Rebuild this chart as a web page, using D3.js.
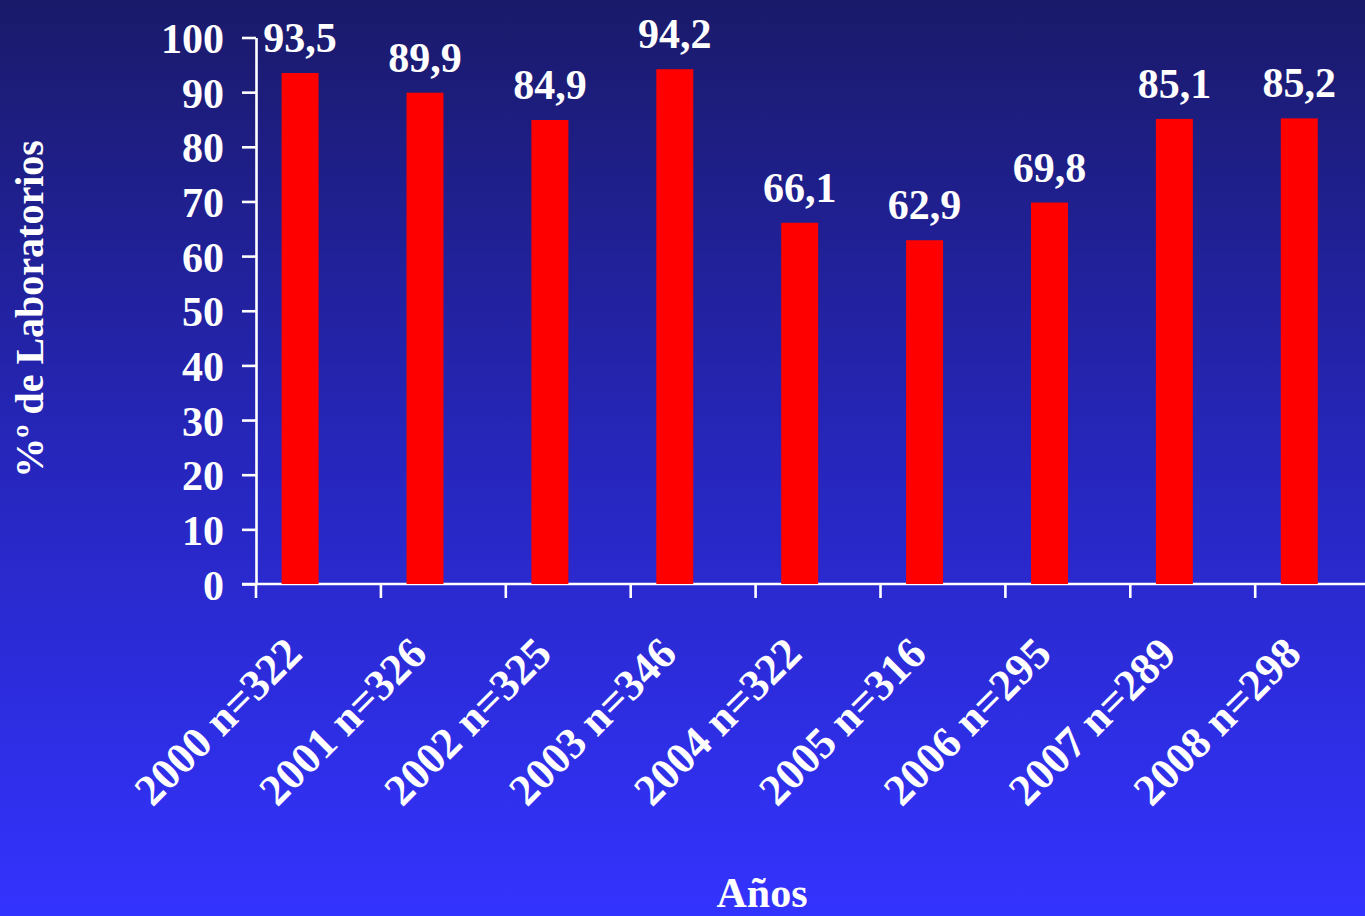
<!DOCTYPE html>
<html>
<head>
<meta charset="utf-8">
<script src="https://cdnjs.cloudflare.com/ajax/libs/d3/7.8.5/d3.min.js"></script>
<style>
  html, body { margin: 0; padding: 0; background: #1a1a6b; }
  svg { display: block; }
  text { font-family: "Liberation Serif", "Times New Roman", serif; font-weight: bold; fill: #ffffff; }
</style>
</head>
<body>
<svg id="chart" width="1365" height="916"></svg>
<script>
// Percentage of laboratories per year (n = number of participating labs)
const years = ["2000", "2001", "2002", "2003", "2004", "2005", "2006", "2007", "2008"];
const nLabs = [322, 326, 325, 346, 322, 316, 295, 289, 298];
const percent = [93.5, 89.9, 84.9, 94.2, 66.1, 62.9, 69.8, 85.1, 85.2];
const yTicks = [0, 10, 20, 30, 40, 50, 60, 70, 80, 90, 100];

const categories = years.map((y, i) => `${y} n=${nLabs[i]}`);
const fmt = v => d3.format(".1f")(v).replace(".", ",");

const W = 1365, H = 916;
const svg = d3.select("#chart");

// Background: vertical gradient from deep navy to bright blue
const defs = svg.append("defs");
const grad = defs.append("linearGradient")
  .attr("id", "bg").attr("x1", 0).attr("y1", 0).attr("x2", 0).attr("y2", 1);
grad.append("stop").attr("offset", "0%").attr("stop-color", "#1a1a6a");
grad.append("stop").attr("offset", "50%").attr("stop-color", "#2626bc");
grad.append("stop").attr("offset", "100%").attr("stop-color", "#3333ff");
svg.append("rect").attr("width", W).attr("height", H).attr("fill", "url(#bg)");

const plotLeft = 256, plotBottom = 584, plotTop = 37.5;
const step = 124.9;

const x = d3.scaleBand()
  .domain(categories)
  .range([plotLeft, plotLeft + step * categories.length])
  .padding(0);

const y = d3.scaleLinear().domain([0, 100]).range([plotBottom, plotTop]);

const axisColor = "#ffffff";
const sw = 2.6;

// Y axis
const yAxis = svg.append("g")
  .attr("transform", `translate(${plotLeft},0)`)
  .call(d3.axisLeft(y).tickValues(yTicks).tickSize(14).tickSizeOuter(0).tickPadding(18));
yAxis.select(".domain").attr("stroke", axisColor).attr("stroke-width", sw);
yAxis.selectAll(".tick line").attr("stroke", axisColor).attr("stroke-width", sw);
yAxis.selectAll(".tick text")
  .attr("font-size", 42)
  .attr("font-family", "Liberation Serif, Times New Roman, serif")
  .attr("font-weight", "bold")
  .attr("fill", "#ffffff")
  .attr("dy", "0.36em");

// X axis baseline and boundary ticks
svg.append("line")
  .attr("x1", plotLeft - 14).attr("x2", x.range()[1])
  .attr("y1", plotBottom).attr("y2", plotBottom)
  .attr("stroke", axisColor).attr("stroke-width", sw);

svg.append("g").selectAll("line")
  .data(categories)
  .join("line")
  .attr("x1", d => x(d)).attr("x2", d => x(d))
  .attr("y1", plotBottom).attr("y2", plotBottom + 14)
  .attr("stroke", axisColor).attr("stroke-width", sw);

// Bars
const barOffset = 0.205 * x.bandwidth();
const barWidth = 0.296 * x.bandwidth();
const barCenter = d => x(d) + barOffset + barWidth / 2;

svg.append("g").selectAll("rect")
  .data(categories)
  .join("rect")
  .attr("x", d => x(d) + barOffset)
  .attr("width", barWidth)
  .attr("y", (d, i) => y(percent[i]))
  .attr("height", (d, i) => y(0) - y(percent[i]))
  .attr("fill", "#ff0000");

// Value labels
svg.append("g").selectAll("text")
  .data(categories)
  .join("text")
  .attr("x", d => barCenter(d))
  .attr("y", (d, i) => y(percent[i]) - 21)
  .attr("text-anchor", "middle")
  .attr("font-size", 42)
  .text((d, i) => fmt(percent[i]));

// Rotated category labels
svg.append("g").selectAll("text")
  .data(categories)
  .join("text")
  .attr("text-anchor", "end")
  .attr("font-size", 44)
  .attr("transform", d => `translate(${barCenter(d) + 4},${plotBottom + 72}) rotate(-45)`)
  .text(d => d);

// Axis titles
svg.append("text")
  .attr("x", 762).attr("y", 907)
  .attr("text-anchor", "middle")
  .attr("font-size", 42)
  .text("Años");

svg.append("text")
  .attr("transform", "translate(43,309) rotate(-90)")
  .attr("text-anchor", "middle")
  .attr("font-size", 40)
  .text("%º de Laboratorios");
</script>
</body>
</html>
